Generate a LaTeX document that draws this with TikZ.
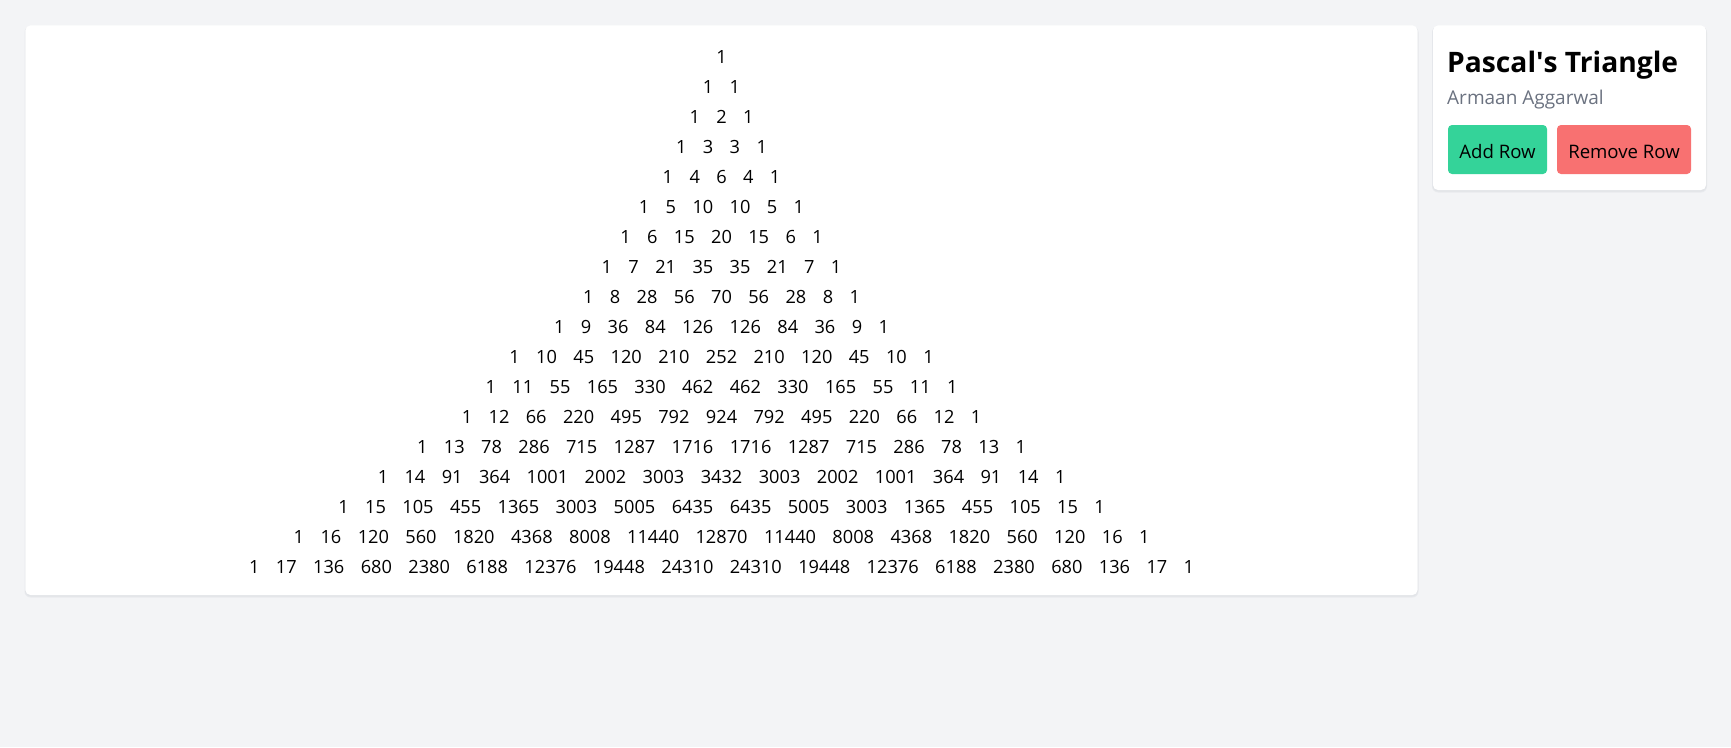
\documentclass[tikz,border=0pt]{standalone}
\usepackage{fontspec}
\setmainfont{Open Sans}
\definecolor{pagebg}{HTML}{F3F4F6}
\definecolor{subgray}{HTML}{6B7280}
\definecolor{addgreen}{HTML}{34D399}
\definecolor{remred}{HTML}{F87171}
\definecolor{shadowc}{HTML}{E2E4E8}
\newcommand\gp{\hspace{16.4pt}}
\begin{document}
\begin{tikzpicture}[x=1pt,y=-1pt,
  card/.style={fill=white,rounded corners=5pt},
  cardshadow/.style={fill=shadowc,rounded corners=6pt},
  rowtxt/.style={anchor=base,inner sep=0pt,font=\fontsize{18.2}{20}\selectfont},
  btn/.style={rounded corners=4pt},
  btntxt/.style={anchor=base,inner sep=0pt,font=\fontsize{18.6}{20}\selectfont},
]
\useasboundingbox (0,0) rectangle (1731,747);
\fill[pagebg] (0,0) rectangle (1731,747);
% main card
\fill[cardshadow,opacity=0.6] (24.5,26.5) rectangle (1418.5,597.5);
\fill[cardshadow] (25,26) rectangle (1418,596.5);
\fill[card] (25.4,25.4) rectangle (1417.5,595);
% side card
\fill[cardshadow,opacity=0.6] (1432,26.5) rectangle (1707,192.5);
\fill[cardshadow] (1432.5,26) rectangle (1706.5,191.5);
\fill[card] (1433,25.4) rectangle (1706,190);
% rows
\foreach \row [count=\i from 0] in {
 {1},
 {1\gp 1},
 {1\gp 2\gp 1},
 {1\gp 3\gp 3\gp 1},
 {1\gp 4\gp 6\gp 4\gp 1},
 {1\gp 5\gp 10\gp 10\gp 5\gp 1},
 {1\gp 6\gp 15\gp 20\gp 15\gp 6\gp 1},
 {1\gp 7\gp 21\gp 35\gp 35\gp 21\gp 7\gp 1},
 {1\gp 8\gp 28\gp 56\gp 70\gp 56\gp 28\gp 8\gp 1},
 {1\gp 9\gp 36\gp 84\gp 126\gp 126\gp 84\gp 36\gp 9\gp 1},
 {1\gp 10\gp 45\gp 120\gp 210\gp 252\gp 210\gp 120\gp 45\gp 10\gp 1},
 {1\gp 11\gp 55\gp 165\gp 330\gp 462\gp 462\gp 330\gp 165\gp 55\gp 11\gp 1},
 {1\gp 12\gp 66\gp 220\gp 495\gp 792\gp 924\gp 792\gp 495\gp 220\gp 66\gp 12\gp 1},
 {1\gp 13\gp 78\gp 286\gp 715\gp 1287\gp 1716\gp 1716\gp 1287\gp 715\gp 286\gp 78\gp 13\gp 1},
 {1\gp 14\gp 91\gp 364\gp 1001\gp 2002\gp 3003\gp 3432\gp 3003\gp 2002\gp 1001\gp 364\gp 91\gp 14\gp 1},
 {1\gp 15\gp 105\gp 455\gp 1365\gp 3003\gp 5005\gp 6435\gp 6435\gp 5005\gp 3003\gp 1365\gp 455\gp 105\gp 15\gp 1},
 {1\gp 16\gp 120\gp 560\gp 1820\gp 4368\gp 8008\gp 11440\gp 12870\gp 11440\gp 8008\gp 4368\gp 1820\gp 560\gp 120\gp 16\gp 1},
 {1\gp 17\gp 136\gp 680\gp 2380\gp 6188\gp 12376\gp 19448\gp 24310\gp 24310\gp 19448\gp 12376\gp 6188\gp 2380\gp 680\gp 136\gp 17\gp 1}
}{
  \node[rowtxt] (r\i) at (721.5,{63+30.03*\i}) {\row};
}
% side panel text
\node[anchor=base west,inner sep=0pt,font=\fontsize{28.2}{30}\selectfont\bfseries] (title) at (1447,72) {Pascal\textquotesingle s Triangle};
\node[anchor=base west,inner sep=0pt,text=subgray,font=\fontsize{19}{20}\selectfont] (author) at (1447,104) {Armaan Aggarwal};
% buttons
\fill[btn,addgreen] (1448,125) rectangle (1547,174);
\fill[btn,remred] (1557,125) rectangle (1691,174);
\node[btntxt] (addbtn) at (1497.5,158.5) {Add Row};
\node[btntxt] (rembtn) at (1624,158.5) {Remove Row};
\end{tikzpicture}
\end{document}
